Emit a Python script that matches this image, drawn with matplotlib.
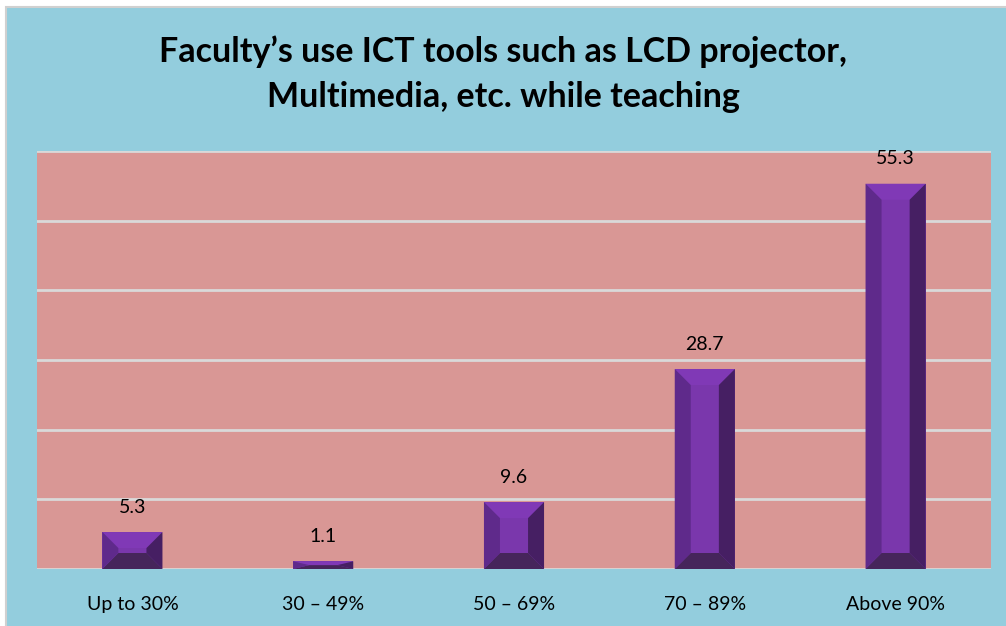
import matplotlib
matplotlib.use("Agg")
import matplotlib.pyplot as plt
from matplotlib.patches import Polygon, Rectangle

categories = ["Up to 30%", "30 \u2013 49%", "50 \u2013 69%", "70 \u2013 89%", "Above 90%"]
values = [5.3, 1.1, 9.6, 28.7, 55.3]
title = "Faculty\u2019s use ICT tools such as LCD projector,\nMultimedia, etc. while teaching"

bg_blue = "#93CDDD"
plot_pink = "#D99795"
front = "#7A37AC"
top_face = "#8039B6"
left_face = "#5F2A8B"
right_face = "#461F63"
bottom_face = "#46255B"

plt.rcParams['font.family'] = ['Lato', 'DejaVu Sans']

fig = plt.figure(figsize=(10.06, 6.26), dpi=100, facecolor="white")
W, H = 1006, 626
# outer chart frame
fig.patches.append(Rectangle((6 / W, -0.01), 1.02, (619 / H) + 0.01, transform=fig.transFigure,
                             facecolor=bg_blue, edgecolor="#D0D0D0", linewidth=1.5, zorder=-5))

ax = fig.add_axes([37 / W, (626 - 569) / H, 954 / W, 418 / H])
ax.set_zorder(1)
ax.set_facecolor(plot_pink)
ax.set_ylim(0, 60)
ax.set_xlim(-0.5, len(categories) - 0.5)
ax.set_yticks(range(0, 61, 10))
ax.yaxis.grid(True, color="#D9D9D9", linewidth=2)
ax.set_axisbelow(True)
for s in ax.spines.values():
    s.set_visible(False)
ax.tick_params(axis="y", left=False, labelleft=False)
ax.tick_params(axis="x", bottom=False, pad=16, labelsize=14)

x = range(len(categories))
bars = ax.bar(x, values, width=0.315, color=front, zorder=2)
ax.set_xticks(list(x))
ax.set_xticklabels(categories)

# bevel size in data units (~16 px)
bx = 16 / 954 * 5
by_max = 16 / 418 * 60
for bar, v in zip(bars, values):
    x0 = bar.get_x()
    x1 = x0 + bar.get_width()
    y0, y1 = 0, v
    by = min(by_max, v / 2)
    A, B, C, D = (x0, y0), (x1, y0), (x1, y1), (x0, y1)
    a, b, c, d = (x0 + bx, y0 + by), (x1 - bx, y0 + by), (x1 - bx, y1 - by), (x0 + bx, y1 - by)
    for pts, col in [([D, C, c, d], top_face), ([A, B, b, a], bottom_face),
                     ([A, a, d, D], left_face), ([B, C, c, b], right_face)]:
        ax.add_patch(Polygon(pts, closed=True, facecolor=col, edgecolor="none", zorder=3))
    ax.annotate(f"{v}", (bar.get_x() + bar.get_width() / 2, v), xytext=(0, 18),
                textcoords="offset points", ha="center", va="center", fontsize=14, color="black")

fig.text(0.5, 0.882, title, ha="center", va="center", fontsize=24.5, fontweight="bold",
         linespacing=1.5)

fig.savefig("out.png", dpi=100, facecolor=fig.get_facecolor())
